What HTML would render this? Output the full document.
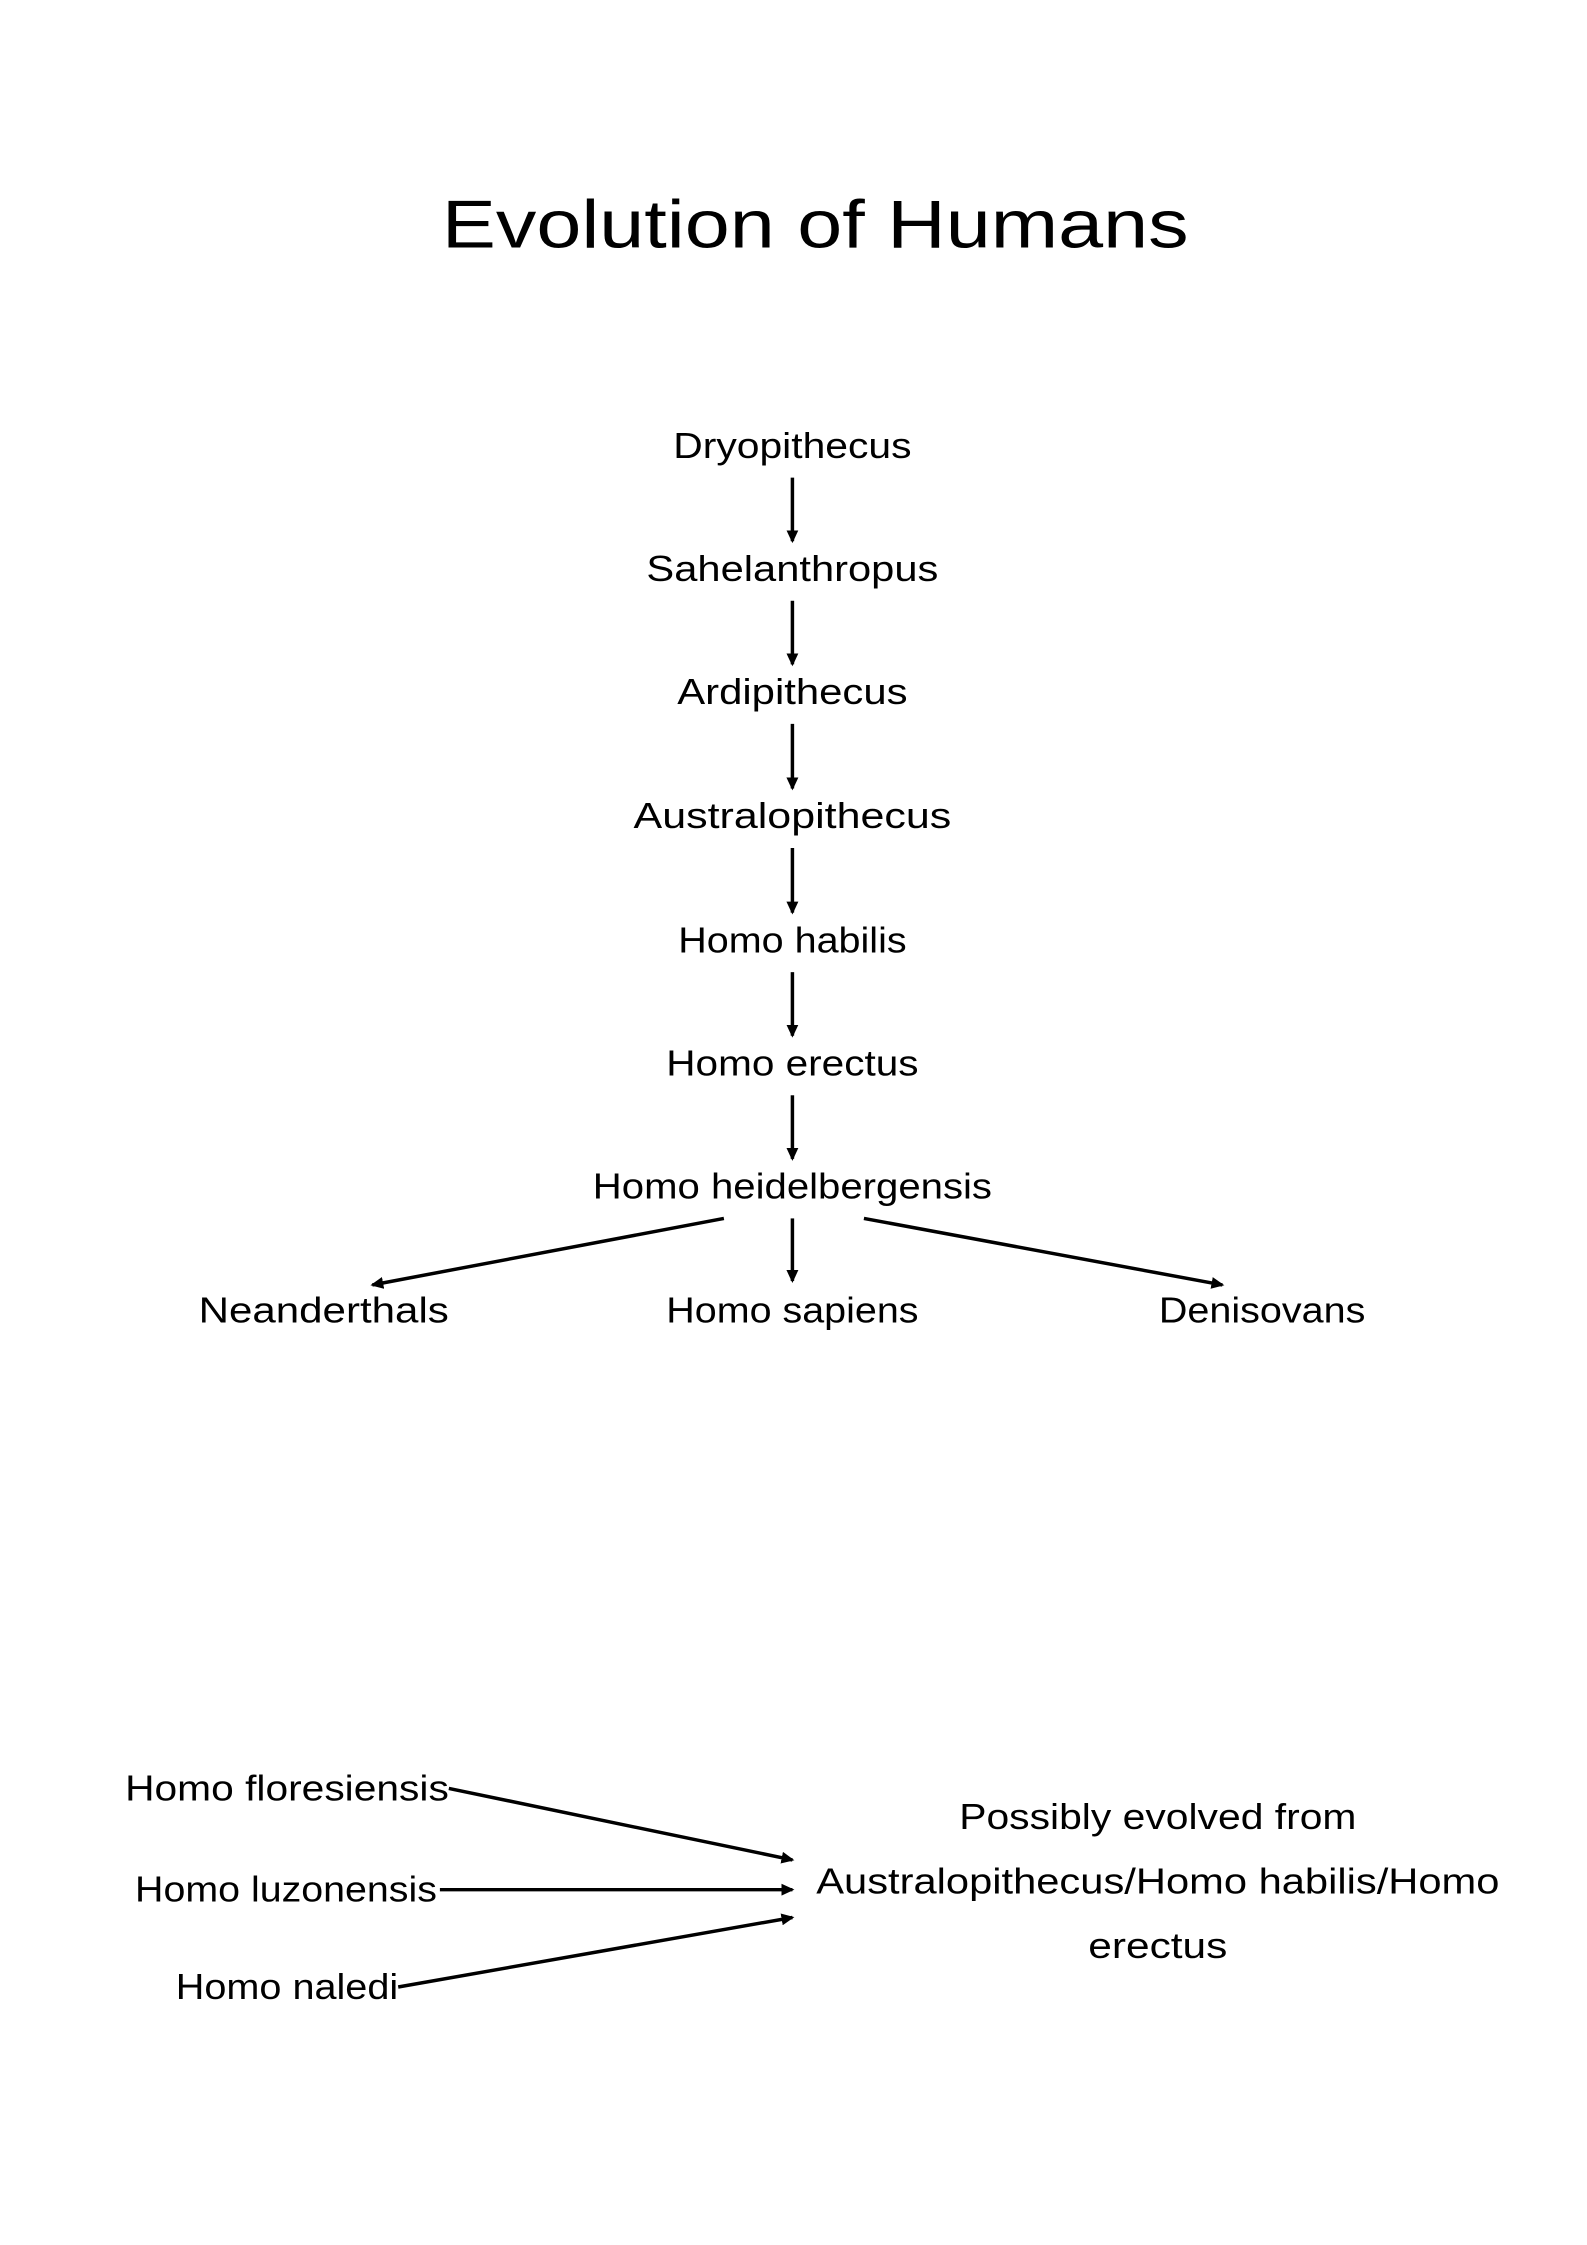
<!DOCTYPE html>
<html><head><meta charset="utf-8"><style>
html,body{margin:0;padding:0;background:#fff;}
svg{display:block;}
text{font-family:"Liberation Sans",sans-serif;fill:#000;}
</style></head><body>
<svg width="1587" height="2245" viewBox="0 0 1587 2245" xmlns="http://www.w3.org/2000/svg">
<defs>
<marker id="a" markerWidth="14" markerHeight="12" refX="11" refY="6" orient="auto" markerUnits="userSpaceOnUse">
<path d="M0,0 L13,6 L0,12 z" fill="#000"/>
</marker>
</defs>
<g transform="scale(0.993)">
<text x="821" y="249" font-size="68" text-anchor="middle" textLength="752" lengthAdjust="spacingAndGlyphs">Evolution of Humans</text>
<g font-size="36" text-anchor="middle">
<text x="798" y="461" textLength="240" lengthAdjust="spacingAndGlyphs">Dryopithecus</text>
<text x="798" y="585" textLength="294" lengthAdjust="spacingAndGlyphs">Sahelanthropus</text>
<text x="798" y="709" textLength="232" lengthAdjust="spacingAndGlyphs">Ardipithecus</text>
<text x="798" y="834" textLength="320" lengthAdjust="spacingAndGlyphs">Australopithecus</text>
<text x="798" y="959" textLength="230" lengthAdjust="spacingAndGlyphs">Homo habilis</text>
<text x="798" y="1083" textLength="254" lengthAdjust="spacingAndGlyphs">Homo erectus</text>
<text x="798" y="1207" textLength="402" lengthAdjust="spacingAndGlyphs">Homo heidelbergensis</text>
<text x="326" y="1332" textLength="252" lengthAdjust="spacingAndGlyphs">Neanderthals</text>
<text x="798" y="1332" textLength="254" lengthAdjust="spacingAndGlyphs">Homo sapiens</text>
<text x="1271" y="1332" textLength="208" lengthAdjust="spacingAndGlyphs">Denisovans</text>
<text x="289" y="1813" textLength="326" lengthAdjust="spacingAndGlyphs">Homo floresiensis</text>
<text x="288" y="1915" textLength="304" lengthAdjust="spacingAndGlyphs">Homo luzonensis</text>
<text x="289" y="2013" textLength="224" lengthAdjust="spacingAndGlyphs">Homo naledi</text>
<text x="1166" y="1842" textLength="400" lengthAdjust="spacingAndGlyphs">Possibly evolved from</text>
<text x="1166" y="1907" textLength="688" lengthAdjust="spacingAndGlyphs">Australopithecus/Homo habilis/Homo</text>
<text x="1166" y="1972" textLength="140" lengthAdjust="spacingAndGlyphs">erectus</text>
</g>
<g stroke="#000" stroke-width="3.5" marker-end="url(#a)">
<line x1="798" y1="481" x2="798" y2="545"/>
<line x1="798" y1="605" x2="798" y2="669"/>
<line x1="798" y1="729" x2="798" y2="794"/>
<line x1="798" y1="854" x2="798" y2="919"/>
<line x1="798" y1="979" x2="798" y2="1043"/>
<line x1="798" y1="1103" x2="798" y2="1167"/>
<line x1="798" y1="1227" x2="798" y2="1290"/>
<line x1="729" y1="1227" x2="375" y2="1294"/>
<line x1="870" y1="1227" x2="1231" y2="1294"/>
<line x1="452" y1="1801" x2="798" y2="1873"/>
<line x1="443" y1="1903" x2="798" y2="1903"/>
<line x1="401" y1="2001" x2="798" y2="1931"/>
</g>
</g>
</svg>
</body></html>
